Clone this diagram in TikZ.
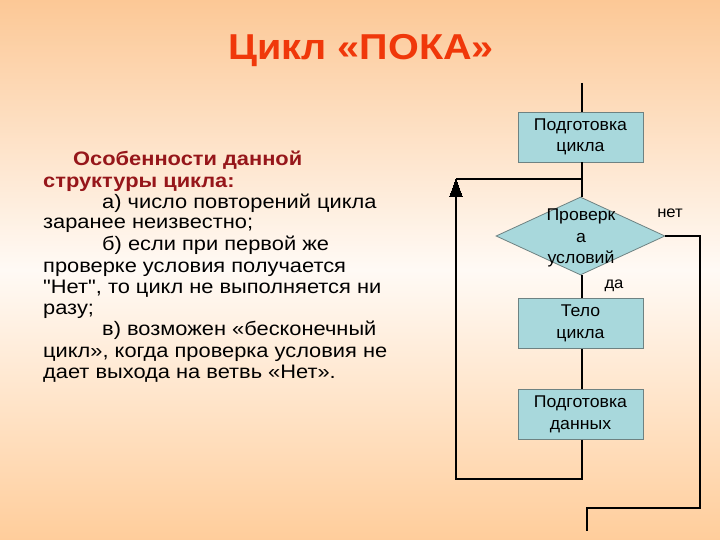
\documentclass[tikz,border=0pt]{standalone}
\usepackage{fontspec}
\setmainfont{Liberation Sans}
\newfontfamily\bodyfont[FakeStretch=1.12, Ligatures=TeXOff]{Liberation Sans}
\newfontfamily\widefont[FakeStretch=1.1, Ligatures=TeXOff]{Liberation Sans}
\newfontfamily\boxfont[FakeStretch=1.04, Ligatures=TeXOff]{Liberation Sans}
\usetikzlibrary{shapes.geometric,arrows.meta}
\definecolor{bgorange}{RGB}{252,200,150}
\definecolor{bgbottom}{RGB}{255,205,155}
\definecolor{bglight}{RGB}{255,250,245}
\definecolor{titlered}{RGB}{240,56,10}
\definecolor{headred}{RGB}{150,22,26}
\definecolor{boxfill}{RGB}{168,216,220}
\definecolor{boxline}{RGB}{110,130,130}
\tikzset{
  procbox/.style={draw=boxline, line width=0.8pt, fill=boxfill, minimum width=125pt, minimum height=50pt,
    inner sep=0pt, align=center, font=\boxfont\fontsize{17}{21.5}\selectfont, text width=122pt},
  decision/.style={draw=boxline, line width=0.8pt, fill=boxfill, diamond, minimum width=169pt, minimum height=78pt, inner sep=0pt},
  flow/.style={line width=2.6pt, black},
  bodytext/.style={anchor=base west, inner sep=0pt, font=\bodyfont\fontsize{19.5}{21}\selectfont},
  headtext/.style={anchor=base west, inner sep=0pt, font=\bodyfont\fontsize{19.5}{21}\selectfont\bfseries, text=headred},
  lbl/.style={inner sep=0pt, font=\boxfont\fontsize{16}{18}\selectfont}
}
\begin{document}
\begin{tikzpicture}[x=1pt,y=-1pt]
\useasboundingbox (0,0) rectangle (720,540);
\shade[top color=bgorange, bottom color=bglight] (0,0) rectangle (720,270);
\shade[top color=bglight, bottom color=bgbottom] (0,270) rectangle (720,540);

\node[font=\widefont\fontsize{36}{40}\selectfont\bfseries, text=titlered, anchor=base] (title) at (361,60) {Цикл «ПОКА»};

\node[headtext] (h1) at (73,166) {Особенности данной};
\node[headtext] (h2) at (43,188) {структуры цикла:};
\node[bodytext] (l1) at (102,208) {а) число повторений цикла};
\node[bodytext] (l2) at (43,229) {заранее неизвестно;};
\node[bodytext] (l3) at (102,250) {б) если при первой же};
\node[bodytext] (l4) at (43,272) {проверке условия получается};
\node[bodytext] (l5) at (43,293) {"Нет", то цикл не выполняется ни};
\node[bodytext] (l6) at (43,314) {разу;};
\node[bodytext] (l7) at (102,335) {в) возможен «бесконечный};
\node[bodytext] (l8) at (43,357) {цикл», когда проверка условия не};
\node[bodytext] (l9) at (43,378) {дает выхода на ветвь «Нет».};

\node[procbox] (b1) at (580.5,137) {Подготовка\\цикла};
\node[decision] (d) at (580.5,236) {};
\node[align=center, inner sep=0pt, font=\boxfont\fontsize{17}{21.5}\selectfont] (dt) at (581,238) {Проверк\\а\\условий};
\node[procbox] (b2) at (580.5,323.5) {Тело\\цикла};
\node[procbox] (b3) at (580.5,414.5) {Подготовка\\данных};

\node[lbl] (no) at (670,213) {нет};
\node[lbl] (yes) at (614,286) {да};

\coordinate (top) at (582,83);
\coordinate (j1) at (582,179);
\coordinate (lt) at (456,179);
\coordinate (lb) at (456,479);
\coordinate (rb) at (582,479);
\coordinate (r1) at (700,236);
\coordinate (r2) at (700,508);
\coordinate (r3) at (587,508);
\coordinate (bot) at (587,531);

\draw[flow] (top) -- (top |- b1.north);
\draw[flow] (b1.south -| j1) -- (d.north -| j1);
\draw[flow] (d.south -| j1) -- (b2.north -| j1);
\draw[flow] (b2.south -| j1) -- (b3.north -| j1);
\draw[flow] (b3.south -| rb) -- (rb) -- (lb) -- (lt);
\draw[flow] (lt) -- (j1);
\draw[line width=0pt, fill=black] (lt) -- ++(-6.5,18) -- ++(13,0) -- cycle;
\draw[flow] (d.east) -- (r1) -- (r2) -- (r3) -- (bot);
\end{tikzpicture}
\end{document}
